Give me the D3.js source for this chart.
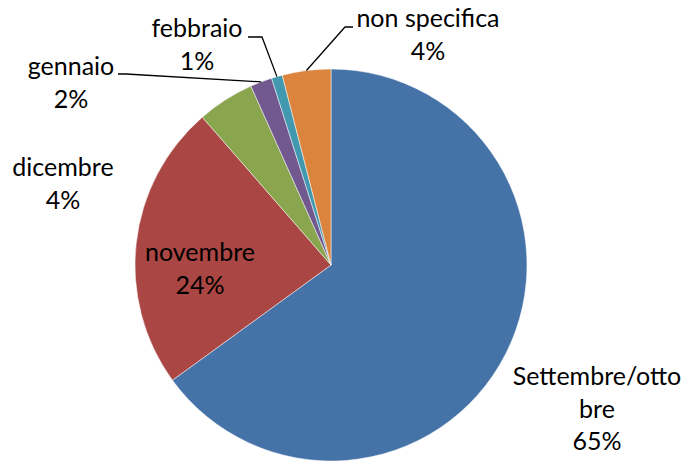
<!DOCTYPE html>
<html>
<head>
    <title>Distribuzione per mese</title>
    <style>
        body { margin: 0; background: #fff; }
        .lbl { font-family: Lato, "Open Sans", sans-serif; font-size: 25px; fill: #000; }
        .leader { fill: none; stroke: #000; stroke-width: 1.3px; }
    </style>
    <script src="https://d3js.org/d3.v7.min.js"></script>
</head>
<body>
<svg width="686" height="461"></svg>
<script>
    // data, clockwise from 12 o'clock
    var categories = ["Settembre/ottobre", "novembre", "dicembre", "gennaio", "febbraio", "non specifica"];
    var shares = [65.0, 23.6, 4.7, 1.8, 0.9, 4.0];
    var pctLabels = ["65%", "24%", "4%", "2%", "1%", "4%"];
    var nameLines = [["Settembre/otto", "bre"], ["novembre"], ["dicembre"], ["gennaio"], ["febbraio"], ["non specifica"]];
    var colors = ["#4572A7", "#AA4643", "#89A54E", "#71588F", "#4198AF", "#DB843D"];

    // where excel put the labels (first baseline, centre x) and the leader elbows
    var labelLayout = [
        { x: 597, y: 385 },
        { x: 200, y: 261 },
        { x: 63, y: 176 },
        { x: 71, y: 75, elbow: [[126, 74], [118, 74]] },
        { x: 197, y: 37, elbow: [[262, 37], [248, 37]] },
        { x: 428, y: 27, elbow: [[345, 27], [353, 27]] }
    ];

    var svg = d3.select("svg"),
        cx = 331, cy = 265, radius = 196, lineH = 32.6;

    var pie = d3.pie().sort(null).value(function(d) { return d; });
    var arc = d3.arc().innerRadius(0).outerRadius(radius);
    var edge = d3.arc().innerRadius(radius).outerRadius(radius);

    var arcs = pie(shares);

    var g = svg.append("g").attr("transform", "translate(" + cx + "," + cy + ")");

    g.selectAll("path.slice")
     .data(arcs)
     .enter().append("path")
     .attr("class", "slice")
     .attr("d", arc)
     .attr("fill", function(d, i) { return colors[i]; })
     .attr("stroke", "#fff")
     .attr("stroke-width", 0.5);

    // leader lines from the slice rim to the label
    arcs.forEach(function(d, i) {
        var lay = labelLayout[i];
        if (!lay.elbow) return;
        var p = edge.centroid(d);
        var pts = [[cx + p[0], cy + p[1]]].concat(lay.elbow);
        svg.append("path")
           .attr("class", "leader")
           .attr("d", d3.line()(pts));
    });

    // labels
    categories.forEach(function(c, i) {
        var lay = labelLayout[i];
        var lines = nameLines[i].concat([pctLabels[i]]);
        var t = svg.append("text")
                   .attr("class", "lbl")
                   .attr("text-anchor", "middle");
        lines.forEach(function(s, k) {
            t.append("tspan")
             .attr("x", lay.x)
             .attr("y", lay.y + k * lineH)
             .text(s);
        });
    });
</script>
</body>
</html>
